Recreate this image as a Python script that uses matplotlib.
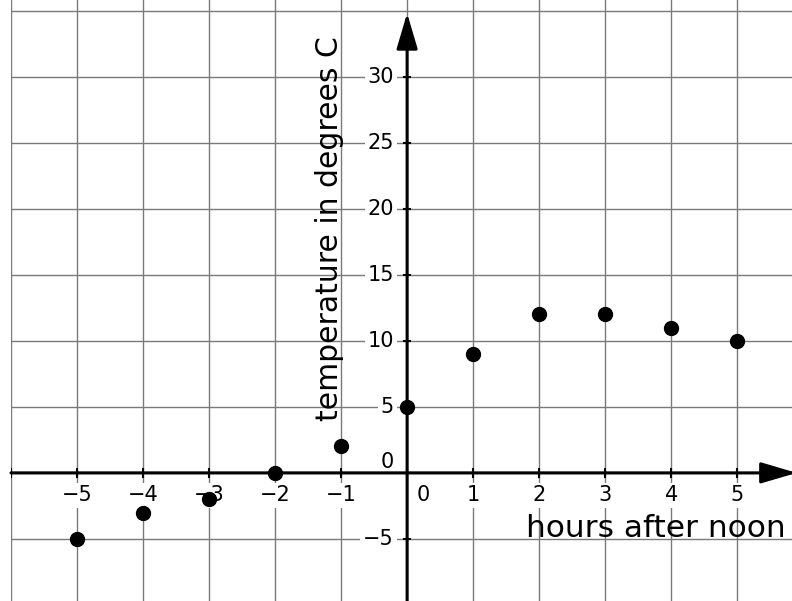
import matplotlib.pyplot as plt
import numpy as np

# temperature readings, hours relative to noon
hours = [-5, -4, -3, -2, -1, 0, 1, 2, 3, 4, 5]
temps = [-5, -3, -2, 0, 2, 5, 9, 12, 12, 11, 10]

x_ticks = [-5, -4, -3, -2, -1, 1, 2, 3, 4, 5]
y_ticks = [-5, 5, 10, 15, 20, 25, 30]
x_grid = np.arange(-6, 6)
y_grid = np.arange(-5, 40, 5)

fig = plt.figure(figsize=(7.92, 6.01), dpi=100)
ax = fig.add_axes([11 / 792, 0, 1 - 11 / 792, 1])
ax.set_xlim(-6, 5.83)
ax.set_ylim(-9.7, 35.8)
ax.axis('off')

# grid
for gx in x_grid:
    ax.axvline(gx, color='#7a7a7a', lw=1, zorder=0)
for gy in y_grid:
    ax.axhline(gy, color='#7a7a7a', lw=1, zorder=0)

# axes with arrow heads
head = '-|>,head_length=2.2,head_width=0.65'
ax.annotate('', xy=(5.9, 0), xytext=(-6, 0), annotation_clip=False,
            arrowprops=dict(arrowstyle=head, lw=2.2, color='black',
                            mutation_scale=10, shrinkA=0, shrinkB=0), zorder=5)
ax.annotate('', xy=(0, 34.8), xytext=(0, -9.7), annotation_clip=False,
            arrowprops=dict(arrowstyle=head, lw=2.2, color='black',
                            mutation_scale=10, shrinkA=0, shrinkB=0), zorder=5)

# small tick marks
for tx in x_grid:
    ax.plot([tx, tx], [-0.3, 0.3], color='black', lw=1.5, zorder=5)
for ty in y_ticks:
    ax.plot([-0.04, 0.04], [ty, ty], color='black', lw=1.5, zorder=5)

# tick labels
box = dict(facecolor='white', edgecolor='none', pad=2)
for tx in x_ticks:
    ax.text(tx, -1.7, f'\u2212{-tx}' if tx < 0 else str(tx), ha='center', va='center',
            fontsize=15, bbox=box, zorder=3)
ax.text(0.24, -1.7, '0', ha='center', va='center', fontsize=15, bbox=box, zorder=3)
for ty in y_ticks:
    ax.text(-0.2, ty, f'\u2212{-ty}' if ty < 0 else str(ty), ha='right', va='center',
            fontsize=15, bbox=box, zorder=3)
ax.text(-0.2, 0.85, '0', ha='right', va='center', fontsize=15, bbox=box, zorder=3)

# axis titles
ax.text(5.73, -4.2, 'hours after noon', ha='right', va='center', fontsize=22.5, zorder=3)
ax.text(-1.17, 18.5, 'temperature in degrees C', rotation=90, ha='center', va='center',
        fontsize=21.5, zorder=3)

ax.plot(hours, temps, 'o', color='black', markersize=10, zorder=6)

fig.savefig('out.png', dpi=100)
